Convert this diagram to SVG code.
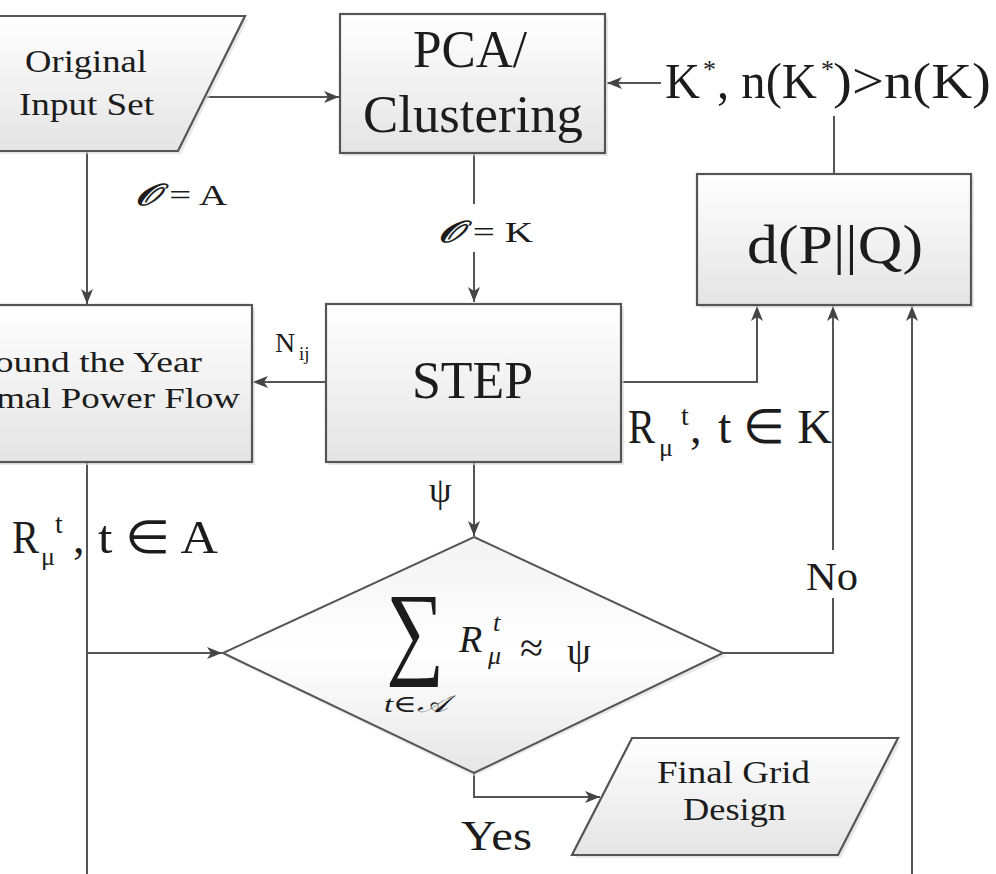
<svg xmlns="http://www.w3.org/2000/svg" width="996" height="874" viewBox="0 0 996 874">
<defs>
<linearGradient id="gf" x1="0" y1="0" x2="0" y2="1">
<stop offset="0" stop-color="#ffffff"/>
<stop offset="1" stop-color="#e4e4e4"/>
</linearGradient>
<linearGradient id="gd" x1="0" y1="0" x2="0" y2="1">
<stop offset="0" stop-color="#f3f3f3"/>
<stop offset="0.5" stop-color="#ffffff"/>
<stop offset="1" stop-color="#e6e6e6"/>
</linearGradient>
<marker id="ah" markerWidth="16" markerHeight="14" refX="15" refY="7" orient="auto" markerUnits="userSpaceOnUse">
<path d="M0,1 L15,7 L0,13 L4,7 Z" fill="#444"/>
</marker>
</defs>
<style>
.box{fill:url(#gf);stroke:#555;stroke-width:2.2}
.shd{fill:#d8d8d8;opacity:0.6}
.ln{fill:none;stroke:#555;stroke-width:2}
.t{font-family:"Liberation Serif","Times New Roman",serif;fill:#1c1c1c}
.m{font-family:"Liberation Serif","DejaVu Serif",serif;fill:#1c1c1c}
.bg{fill:#ffffff}
</style>
<rect width="996" height="874" fill="#ffffff"/>

<g id="connectors">
<line class="ln" x1="207" y1="97" x2="339" y2="97" marker-end="url(#ah)"/>
<line class="ln" x1="87" y1="151" x2="87" y2="304" marker-end="url(#ah)"/>
<line class="ln" x1="474" y1="154" x2="474" y2="302" marker-end="url(#ah)"/>
<line class="ln" x1="326" y1="382" x2="253" y2="382" marker-end="url(#ah)"/>
<path class="ln" d="M621,382 H757 V306" marker-end="url(#ah)"/>
<line class="ln" x1="834" y1="174" x2="834" y2="116"/>
<line class="ln" x1="661" y1="83" x2="607" y2="83" marker-end="url(#ah)"/>
<line class="ln" x1="474" y1="462" x2="474" y2="536" marker-end="url(#ah)"/>
<path class="ln" d="M87,462 V653 H222" marker-end="url(#ah)"/>
<line class="ln" x1="87" y1="653" x2="87" y2="876"/>
<path class="ln" d="M723,653 H833 V306" marker-end="url(#ah)"/>
<path class="ln" d="M474,773 V797 H600" marker-end="url(#ah)"/>
<line class="ln" x1="912" y1="876" x2="912" y2="306" marker-end="url(#ah)"/>
</g>

<g id="node-original">
<polygon class="shd" points="-40,19 248,19 181,154 -40,154"/>
<polygon class="box" points="-40,16 245,16 178,151 -40,151"/>
<text class="t" x="25" y="72" font-size="32" textLength="122" lengthAdjust="spacingAndGlyphs">Original</text>
<text class="t" x="19" y="115" font-size="32" textLength="135" lengthAdjust="spacingAndGlyphs">Input Set</text>
</g>

<g id="node-pca">
<rect class="shd" x="343" y="17" width="265" height="139"/>
<rect class="box" x="340" y="14" width="265" height="139"/>
<text class="t" x="413" y="67" font-size="52" textLength="114" lengthAdjust="spacingAndGlyphs">PCA/</text>
<text class="t" x="363" y="132" font-size="52" textLength="220" lengthAdjust="spacingAndGlyphs">Clustering</text>
</g>

<g id="node-dpq">
<rect class="shd" x="700" y="177" width="274" height="131"/>
<rect class="box" x="697" y="174" width="274" height="131"/>
<text class="t" x="747" y="263" font-size="54" textLength="176" lengthAdjust="spacingAndGlyphs">d(P||Q)</text>
</g>

<g id="node-step">
<rect class="shd" x="329" y="307" width="295" height="158"/>
<rect class="box" x="326" y="304" width="295" height="158"/>
<text class="t" x="412" y="398" font-size="52" textLength="121" lengthAdjust="spacingAndGlyphs">STEP</text>
</g>

<g id="node-round">
<rect class="shd" x="-10" y="308" width="265" height="157"/>
<rect class="box" x="-10" y="305" width="262" height="157"/>
<text class="t" transform="translate(202,372) scale(1.25,1)" font-size="30" text-anchor="end">Round the Year</text>
<text class="t" transform="translate(240,408) scale(1.23,1)" font-size="30" text-anchor="end">Optimal Power Flow</text>
</g>

<g id="node-decision">
<polygon class="shd" points="474,540 726,656 474,776 225,656"/>
<polygon points="474,537 723,653 474,773 223,653" fill="url(#gd)" stroke="#555" stroke-width="2"/>
<text class="m" x="386" y="665" font-size="104" textLength="58" lengthAdjust="spacingAndGlyphs">∑</text>
<text class="m" x="384" y="712" font-size="24" font-style="italic" textLength="64" lengthAdjust="spacingAndGlyphs">t∈𝒜</text>
<text class="m" x="459" y="652" font-size="38" font-style="italic">R</text>
<text class="m" x="493" y="631" font-size="26" font-style="italic">t</text>
<text class="m" x="488" y="664" font-size="26" font-style="italic">μ</text>
<text class="m" x="520" y="662" font-size="42">≈</text>
<text class="m" x="567" y="664" font-size="38">ψ</text>
</g>

<g id="node-final">
<polygon class="shd" points="635,741 901,741 841,858 575,858"/>
<polygon class="box" points="632,738 898,738 838,855 572,855"/>
<text class="t" x="657" y="783" font-size="31" textLength="153" lengthAdjust="spacingAndGlyphs">Final Grid</text>
<text class="t" x="683" y="820" font-size="31" textLength="103" lengthAdjust="spacingAndGlyphs">Design</text>
</g>

<g id="labels">
<text class="t" x="135" y="205" font-size="30" textLength="92" lengthAdjust="spacingAndGlyphs"><tspan font-style="italic" font-weight="bold">𝒪</tspan> = A</text>
<rect class="bg" x="432" y="204" width="106" height="48"/>
<text class="t" x="438" y="242" font-size="30" textLength="95" lengthAdjust="spacingAndGlyphs"><tspan font-style="italic" font-weight="bold">𝒪</tspan> = K</text>
<text class="t" x="275" y="352" font-size="28">N</text>
<text class="t" x="299" y="360" font-size="19">ij</text>
<text class="t" x="429" y="502" font-size="36">ψ</text>
<rect class="bg" x="800" y="550" width="66" height="48"/>
<text class="t" x="806" y="590" font-size="40" textLength="52" lengthAdjust="spacingAndGlyphs">No</text>
<text class="t" x="461" y="850" font-size="42" textLength="71" lengthAdjust="spacingAndGlyphs">Yes</text>
<text class="t" x="665" y="98" font-size="50" textLength="35" lengthAdjust="spacingAndGlyphs">K</text>
<text class="t" x="703" y="78" font-size="26">*</text>
<text class="t" x="717" y="98" font-size="50" textLength="100" lengthAdjust="spacingAndGlyphs">, n(K</text>
<text class="t" x="821" y="78" font-size="26">*</text>
<text class="t" x="833" y="98" font-size="50" textLength="158" lengthAdjust="spacingAndGlyphs">)&gt;n(K)</text>
<text class="t" x="12" y="553" font-size="46" textLength="27" lengthAdjust="spacingAndGlyphs">R</text>
<text class="t" x="41" y="565" font-size="26">μ</text>
<text class="t" x="55" y="533" font-size="28">t</text>
<text class="t" x="73" y="553" font-size="46">,</text>
<text class="t" x="98" y="553" font-size="46" textLength="120" lengthAdjust="spacingAndGlyphs">t ∈ A</text>
<text class="t" x="628" y="443" font-size="48" textLength="27" lengthAdjust="spacingAndGlyphs">R</text>
<text class="t" x="659" y="456" font-size="26">μ</text>
<text class="t" x="681" y="425" font-size="28">t</text>
<text class="t" x="690" y="443" font-size="46">,</text>
<text class="t" x="718" y="443" font-size="48" textLength="114" lengthAdjust="spacingAndGlyphs">t ∈ K</text>
</g>
</svg>
